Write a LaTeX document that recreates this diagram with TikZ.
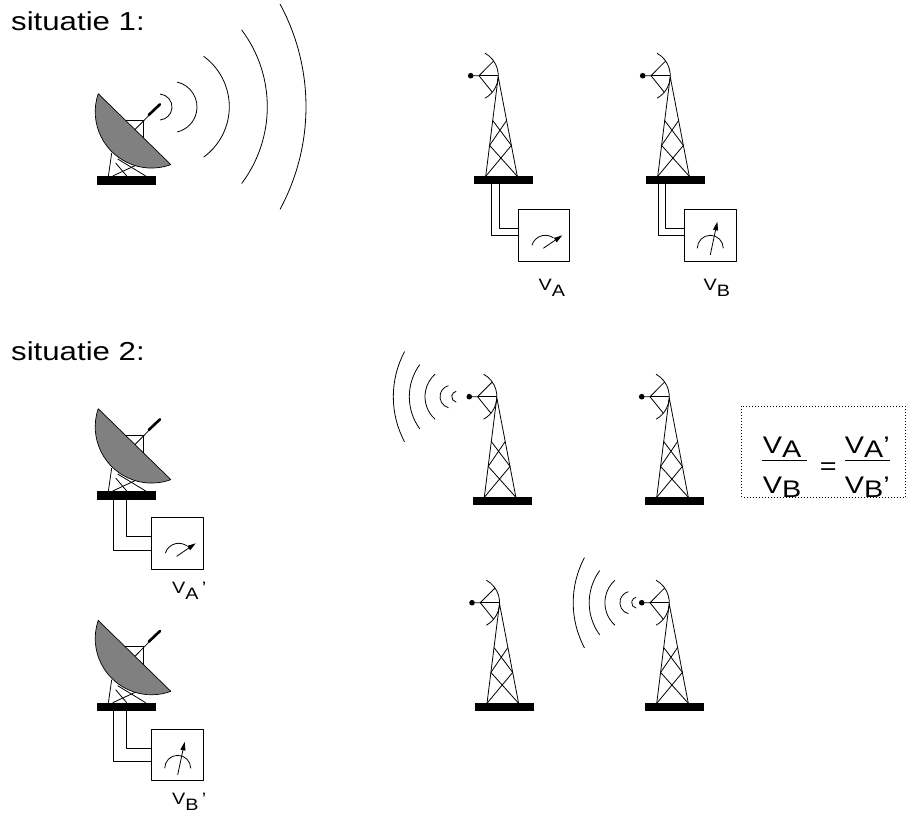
\documentclass[tikz,border=0pt]{standalone}
\usepackage{fontspec}
\setmainfont{Liberation Sans}
\usetikzlibrary{arrows.meta}
\newcommand\hstretch[1]{\scalebox{1.2}[1]{#1}}
\newcommand\lowsub[2]{\raisebox{-#1}{#2}}

\tikzset{
  heading/.style={inner sep=0pt, anchor=base west, font=\fontsize{26}{26}\selectfont},
  vlabel/.style={inner sep=0pt, anchor=base west, font=\fontsize{16.5}{16.5}\selectfont},
  formula/.style={inner sep=0pt, anchor=base west, font=\fontsize{24}{24}\selectfont},
  needle/.style={line width=0.8pt, -{Triangle[length=8.5pt,width=5pt]}},
  dotted box/.style={line width=0.8pt, dash pattern=on 0.8pt off 2.2pt},
  % receiving mast, origin at the feed point
  mast/.pic={
    \fill (0,0) circle (2.8);
    \draw (0,0) -- (8.3,0) -- (22.95,-14.74);
    \draw (8.3,0) -- (27.6,0);
    \draw (8.3,0) -- (21.59,16.52);
    \draw (14.36,-22.48) arc[start angle=-61,end angle=61,radius=25.7];
    \draw (15,100.6) -- (27.5,1) -- (46.6,100.6);
    \draw (22,44.8) -- (40.7,69.7) (35.9,44.8) -- (18.9,69.7);
    \draw (18.9,69.7) -- (46.6,100.6) (40.7,69.7) -- (15,100.6);
    \fill (3.3,100.6) rectangle (62.3,108.3);
  },
  % parabolic dish, origin at the top left corner of its base
  dish/.pic={
    \draw (11.7,0) -- (15,-23);
    \draw (16,0) -- (44,-13);
    \draw (21,-17) -- (49,0);
    \draw (30,0) -- (19,-13);
    \draw (25,-56) -- (46.3,-56) -- (46.3,-35);
    \draw (38.3,-46.5) -- (63.3,-71.7);
    \draw[line width=2.6pt, line cap=round] (52,-61) -- (63.3,-71.7);
    \draw[fill=gray, line width=0.7pt] (1.5,-82.3) arc[start angle=198.7,end angle=69.9,radius=56.3] -- cycle;
    \fill (0,0) rectangle (59,8.5);
  },
  % meter dials, origin at the top left corner of the meter box
  gaugeA/.pic={
    \draw (13.6,35.9) arc[start angle=197,end angle=305,radius=14];
    \draw[needle] (25,39) -- (44,26);
  },
  gaugeB/.pic={
    \draw (13,39) arc[start angle=180,end angle=360,radius=13];
    \draw[needle] (26,45.5) -- (33,12.5);
  },
  % waves leaving a mast to the left, origin at the feed point
  leftwaves/.pic={
    \draw (-12.1,0) ++(100:5.5) arc[start angle=100,end angle=260,radius=5.5];
    \draw (-17.9,0) ++(105:11.4) arc[start angle=105,end angle=255,radius=11.4];
    \draw (-14,0) ++(132:30.3) arc[start angle=132,end angle=228,radius=30.3];
    \draw (-5.3,0) ++(144:54.7) arc[start angle=144,end angle=216,radius=54.7];
    \draw (20,0) ++(152:96) arc[start angle=152,end angle=208,radius=96];
  },
}

\begin{document}
\begin{tikzpicture}[x=1pt,y=-1pt,line width=0.8pt,line join=round]
\useasboundingbox (0,0) rectangle (909,815);

% headings
\node[heading] (h1) at (10.8,30.7) {\hstretch{situatie 1:}};
\node[heading] (h2) at (10.8,360.7) {\hstretch{situatie 2:}};

% situatie 1: transmitting dish
\pic at (96.7,176) {dish};
\draw (159,107) ++(-85:13) arc[start angle=-85,end angle=85,radius=13];
\draw (171.4,107) ++(-77:25.6) arc[start angle=-77,end angle=77,radius=25.6];
\draw (167,106.7) ++(-54:62.3) arc[start angle=-54,end angle=54,radius=62.3];
\draw (139.6,106.7) ++(-37:127.7) arc[start angle=-37,end angle=37,radius=127.7];
\draw (90.2,106.7) ++(-28.4:215.8) arc[start angle=-28.4,end angle=28.4,radius=215.8];

% situatie 1: receiving masts with meters
\pic at (470.7,75.7) {mast};
\draw (491.7,184) |- (518.3,235);
\draw (499.3,184) |- (518.3,228.3);
\draw (518.3,209.3) rectangle (569,261);
\pic at (518.3,209.3) {gaugeA};
\node[vlabel] (va) at (538.3,290) {\hstretch{V\lowsub{6pt}{A}}};

\pic at (642.7,75.7) {mast};
\draw (658.3,184) |- (684.3,235);
\draw (665,184) |- (684.3,228.3);
\draw (684.3,209.3) rectangle (736,261);
\pic at (684.3,209.3) {gaugeB};
\node[vlabel] (vb) at (703.3,290) {\hstretch{V\lowsub{6pt}{B}}};

% situatie 2: dishes with meters
\pic at (96.7,491) {dish};
\draw (113.3,499.5) |- (151.7,550);
\draw (126.7,499.5) |- (151.7,536.7);
\draw (151.7,517.3) rectangle (203.3,569);
\pic at (151.7,517.3) {gaugeA};
\node[vlabel] (va2) at (171.7,593.3) {\hstretch{V\lowsub{6pt}{A}\,'}};

\pic at (96.7,702.7) {dish};
\draw (113.3,711.2) |- (151.7,761.7);
\draw (126.7,711.2) |- (151.7,748.3);
\draw (151.7,729.3) rectangle (203.3,780);
\pic at (151.7,729.3) {gaugeB};
\node[vlabel] (vb2) at (171.7,804) {\hstretch{V\lowsub{6pt}{B}\,'}};

% situatie 2: masts, two of them transmitting
\pic at (469.3,396.7) {mast};
\pic at (469.3,396.7) {leftwaves};
\pic at (641.7,396.7) {mast};
\pic at (472,602.7) {mast};
\pic at (641.7,602.7) {mast};
\pic at (649.2,602.7) {leftwaves};

% ratio
\draw[dotted box] (741.7,406) rectangle (905,497);
\node[formula] (fa) at (762.5,453.3) {\hstretch{V\lowsub{4pt}{A}}};
\node[formula] (fb) at (762.5,493.7) {\hstretch{V\lowsub{4pt}{B}}};
\node[formula] (fc) at (844.5,453.3) {\hstretch{V\lowsub{4pt}{A}'}};
\node[formula] (fd) at (844.5,493.7) {\hstretch{V\lowsub{4pt}{B}'}};
\draw (761.7,460) -- (806.7,460);
\draw (845,460) -- (890,460);
\node[formula, anchor=base] (eq) at (828.3,474) {\hstretch{=}};
\end{tikzpicture}
\end{document}
